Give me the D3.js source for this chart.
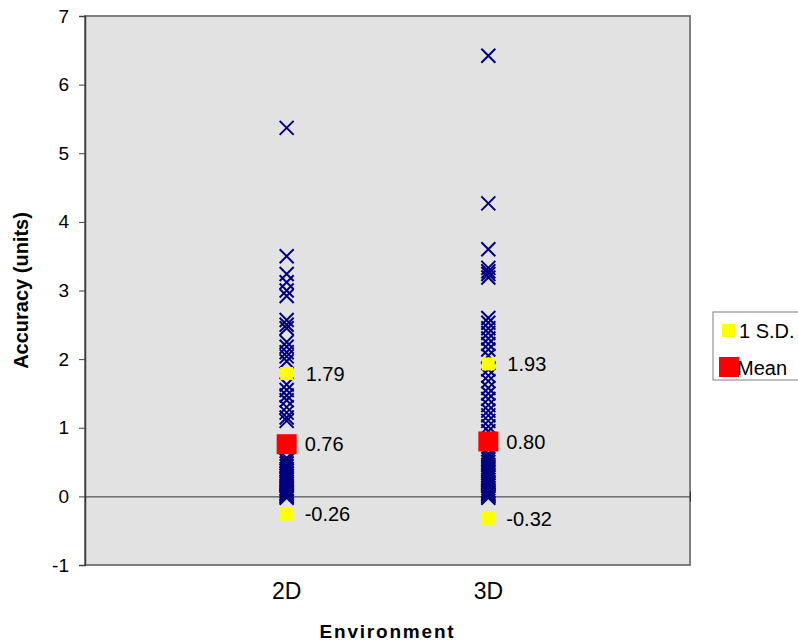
<!DOCTYPE html>
<html><head><meta charset="utf-8">
<script src="https://cdn.jsdelivr.net/npm/d3@7"></script>
<style>body{margin:0;background:#fff;}svg{display:block;font-family:Arial,"Liberation Sans",sans-serif;}</style>
</head><body><svg id="c" width="798" height="643"></svg>
<script>
const categories = ["2D", "3D"];
const categoryPos = [1, 2];
const values2D = [5.37, 3.50, 3.24, 3.12, 3.00, 2.92, 2.57, 2.50, 2.45, 2.25, 2.18, 2.10, 2.04, 1.97,
  1.63, 1.55, 1.47, 1.40, 1.30, 1.22, 1.15, 1.10, 0.73,
  0.56, 0.52, 0.48, 0.44, 0.40, 0.37, 0.33, 0.30, 0.27, 0.24, 0.21, 0.18, 0.15, 0.12, 0.10, 0.07, 0.05, 0.03, 0.01, 0.00, -0.02];
const values3D = [6.42, 4.27, 3.60, 3.33, 3.28, 3.24, 3.19, 2.60, 2.53, 2.45, 2.38, 2.30, 2.22, 2.14, 2.05,
  1.85, 1.76, 1.68, 1.58, 1.50, 1.42, 1.33, 1.25, 1.18, 1.10, 1.02, 0.95,
  0.62, 0.58, 0.54, 0.50, 0.46, 0.42, 0.38, 0.34, 0.30, 0.27, 0.24, 0.21, 0.18, 0.15, 0.12, 0.09, 0.07, 0.05, 0.03, 0.01, 0.00, -0.02];
const means = [0.76, 0.80];
const sdUpper = [1.79, 1.93];
const sdLower = [-0.26, -0.32];
const yTicks = [-1, 0, 1, 2, 3, 4, 5, 6, 7];
const legendLabels = ["1 S.D.", "Mean"];

const hy = s => s.replace(/\u2212/g, "-");
const fmtInt = d => hy(d3.format("d")(d));
const fmt2 = d => hy(d3.format(".2f")(d));

const svg = d3.select("#c");
const x = d3.scaleLinear().domain([0, 3]).range([85, 690]);
const y = d3.scaleLinear().domain([-1, 7]).range([565, 16]);

// plot area
svg.append("rect").attr("x", x(0)).attr("y", y(7)).attr("width", x(3) - x(0)).attr("height", y(-1) - y(7))
  .attr("fill", "#e2e2e2").attr("stroke", "#808080").attr("stroke-width", 2);

// y axis
const yAxis = d3.axisLeft(y).tickValues(yTicks).tickSize(6).tickPadding(10).tickFormat(fmtInt);
const ga = svg.append("g").attr("transform", `translate(${x(0)},0)`).call(yAxis);
ga.select(".domain").attr("stroke", "#404040").attr("stroke-width", 1.5);
ga.selectAll(".tick line").attr("stroke", "#404040");
ga.selectAll(".tick text").attr("font-size", 19).attr("fill", "#000").attr("font-family", "Arial, Liberation Sans");

// x axis at zero
const xAxis = d3.axisBottom(x).tickValues([3]).tickSize(5).tickFormat("");
const gx = svg.append("g").attr("transform", `translate(0,${y(0)})`).call(xAxis);
gx.select(".domain").attr("stroke", "#303030").attr("stroke-width", 1);
gx.selectAll(".tick line").attr("y1", -5).attr("stroke", "#303030");

// category labels
svg.selectAll("text.cat").data(categories).join("text").attr("class", "cat")
  .attr("x", (d, i) => x(categoryPos[i])).attr("y", 599)
  .attr("text-anchor", "middle").attr("font-size", 23).text(d => d);

// markers
const series = [values2D, values3D];
const cross = 7;
series.forEach((vals, i) => {
  const cx = x(categoryPos[i]);
  svg.append("g").selectAll("path").data(vals).join("path")
    .attr("d", v => `M${cx - cross},${y(v) - cross}L${cx + cross},${y(v) + cross}M${cx - cross},${y(v) + cross}L${cx + cross},${y(v) - cross}`)
    .attr("stroke", "#000080").attr("stroke-width", 2).attr("fill", "none");
});

// SD squares and means
const sdSize = 13, meanSize = 20;
categoryPos.forEach((p, i) => {
  const cx = x(p);
  [sdUpper[i], sdLower[i]].forEach(v => {
    svg.append("rect").attr("x", cx - sdSize / 2).attr("y", y(v) - sdSize / 2)
      .attr("width", sdSize).attr("height", sdSize).attr("fill", "#ffff00");
  });
  svg.append("rect").attr("x", cx - meanSize / 2).attr("y", y(means[i]) - meanSize / 2)
    .attr("width", meanSize).attr("height", meanSize).attr("fill", "#ff0000");
  [[sdUpper[i], 19], [means[i], 18], [sdLower[i], 18]].forEach(([v, off]) => {
    svg.append("text").attr("x", cx + off).attr("y", y(v)).attr("dy", "0.36em")
      .attr("font-size", 20).text(fmt2(v));
  });
});

// axis titles
svg.append("text").attr("transform", `translate(28,${(y(7) + y(-1)) / 2}) rotate(-90)`)
  .attr("text-anchor", "middle").attr("font-weight", "bold").attr("font-size", 20).text("Accuracy (units)");
svg.append("text").attr("x", (x(0) + x(3)) / 2).attr("y", 638).attr("text-anchor", "middle")
  .attr("font-weight", "bold").attr("font-size", 19).attr("letter-spacing", 1.8).text("Environment");

// legend
const lg = svg.append("g").attr("transform", "translate(713,312)");
lg.append("rect").attr("x", 0).attr("y", 0).attr("width", 100).attr("height", 68)
  .attr("fill", "#fff").attr("stroke", "#808080").attr("stroke-width", 1);
lg.append("rect").attr("x", 9).attr("y", 12).attr("width", 13).attr("height", 13).attr("fill", "#ffff00");
lg.append("rect").attr("x", 6).attr("y", 45).attr("width", 20).attr("height", 20).attr("fill", "#ff0000");
lg.selectAll("text").data(legendLabels).join("text")
  .attr("x", (d, i) => i === 0 ? 26 : 24).attr("y", (d, i) => i === 0 ? 19 : 56).attr("dy", "0.36em")
  .attr("font-size", 20).text(d => d);
</script></body></html>
